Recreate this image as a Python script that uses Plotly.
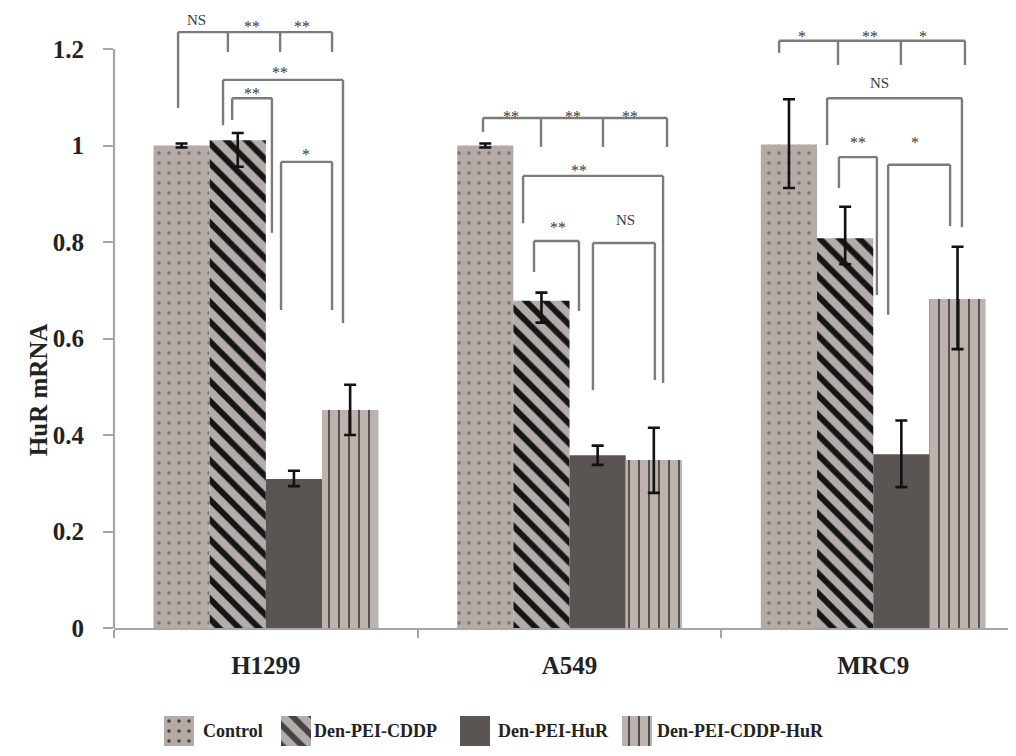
import plotly.graph_objects as go

# ---------------- data ----------------
categories = ["H1299", "A549", "MRC9"]
series_names = ["Control", "Den-PEI-CDDP", "Den-PEI-HuR", "Den-PEI-CDDP-HuR"]
control = [1.000, 1.000, 1.002]
den_pei_cddp = [1.011, 0.678, 0.808]
den_pei_hur = [0.309, 0.358, 0.360]
den_pei_cddp_hur = [0.452, 0.348, 0.682]
err_plus = {
    "Control": [0.004, 0.004, 0.094],
    "Den-PEI-CDDP": [0.015, 0.017, 0.065],
    "Den-PEI-HuR": [0.017, 0.020, 0.070],
    "Den-PEI-CDDP-HuR": [0.052, 0.067, 0.108],
}
err_minus = {
    "Control": [0.004, 0.004, 0.090],
    "Den-PEI-CDDP": [0.055, 0.045, 0.054],
    "Den-PEI-HuR": [0.015, 0.020, 0.068],
    "Den-PEI-CDDP-HuR": [0.052, 0.068, 0.104],
}
y_tick_vals = [0, 0.2, 0.4, 0.6, 0.8, 1.0, 1.2]
y_tick_text = ["0", "0.2", "0.4", "0.6", "0.8", "1", "1.2"]

# significance brackets: (x positions, level, leg bottoms)
brackets = [
    ([-0.289, -0.125, 0.047, 0.218], 1.235, [1.078, 1.194, 1.194, 1.194]),
    ([-0.141, 0.254], 1.136, [1.042, 0.632]),
    ([-0.111, 0.020], 1.098, [1.053, 0.819]),
    ([0.050, 0.218], 0.966, [0.659, 0.659]),
    ([0.715, 0.906, 1.110, 1.321], 1.057, [1.028, 0.997, 0.997, 0.997]),
    ([0.847, 1.308], 0.937, [0.839, 0.508]),
    ([0.883, 1.031], 0.802, [0.738, 0.657]),
    ([1.077, 1.281], 0.798, [0.493, 0.514]),
    ([1.690, 1.884, 2.091, 2.302], 1.217, [1.192, 1.167, 1.167, 1.167]),
    ([1.848, 2.292], 1.098, [1.001, 0.831]),
    ([1.887, 2.012], 0.976, [0.912, 0.690]),
    ([2.049, 2.253], 0.960, [0.649, 0.833]),
]
sig_labels = [
    (-0.227, 1.260, "NS"), (-0.046, 1.246, "**"), (0.119, 1.246, "**"),
    (0.047, 1.152, "**"), (-0.046, 1.107, "**"), (0.132, 0.982, "*"),
    (0.807, 1.061, "**"), (1.011, 1.061, "**"), (1.199, 1.061, "**"),
    (1.031, 0.949, "**"), (0.962, 0.831, "**"), (1.183, 0.846, "NS"),
    (1.765, 1.225, "*"), (1.989, 1.225, "**"), (2.164, 1.225, "*"),
    (2.022, 1.130, "NS"), (1.950, 1.007, "**"), (2.137, 1.007, "*"),
]

# ---------------- styles ----------------
FONT = "Liberation Serif"
styles = {
    "Control": dict(bg="#b4aaa6", fg="#7d7370", shape=".", size=10, solidity=0.1),
    "Den-PEI-CDDP": dict(bg="#b3acaa", fg="#151515", shape="\\", size=14, solidity=0.42),
    "Den-PEI-HuR": dict(bg="#5a5553", fg="#5a5553", shape="", size=8, solidity=0.2),
    "Den-PEI-CDDP-HuR": dict(bg="#bcb2ae", fg="#4e4744", shape="|", size=10, solidity=0.18),
}
values = dict(zip(series_names, [control, den_pei_cddp, den_pei_hur, den_pei_cddp_hur]))

# page body has an 8px margin -> figure coordinates = screen coordinates - 8
PAGE_OFF = 8
W, H = 1000, 740
L = 114 - PAGE_OFF            # left edge of plot area (screen x = 114)
zero_px = 628 - PAGE_OFF      # y=0 line (screen y = 628)
px_per_unit = 482.5
px_per_cat = 303.7
y_dom0 = (H - zero_px) / H
y_max = zero_px / px_per_unit
x_max = -0.5 + (W - L) / px_per_cat


def pattern_of(names):
    return dict(shape=[styles[n]["shape"] for n in names],
                fgcolor=[styles[n]["fg"] for n in names],
                bgcolor=[styles[n]["bg"] for n in names],
                size=[styles[n]["size"] for n in names],
                solidity=[styles[n]["solidity"] for n in names],
                fgopacity=1, fillmode="overlay")


fig = go.Figure()
for name in series_names:
    s = styles[name]
    fig.add_trace(go.Bar(
        x=categories, y=values[name], name=name, showlegend=False,
        marker=dict(color=s["bg"], line=dict(width=0),
                    pattern=dict(shape=s["shape"], fgcolor=s["fg"], bgcolor=s["bg"],
                                 size=s["size"], solidity=s["solidity"],
                                 fgopacity=1, fillmode="overlay")),
        error_y=dict(type="data", symmetric=False, array=err_plus[name],
                     arrayminus=err_minus[name], color="#111111", thickness=2.6, width=6),
    ))

# brackets
bx, by = [], []
for xs, level, bottoms in brackets:
    bx += [xs[0], xs[-1], None]
    by += [level, level, None]
    for x, b in zip(xs, bottoms):
        bx += [x, x, None]
        by += [level, b, None]
fig.add_trace(go.Scatter(x=bx, y=by, mode="lines", showlegend=False, hoverinfo="skip",
                         line=dict(color="#7b7b7b", width=2.4), cliponaxis=False,
                         xaxis="x3", yaxis="y"))

annotations = []
for x, y, t in sig_labels:
    annotations.append(dict(x=x, y=y, xref="x3", yref="y", text=t, showarrow=False,
                            xanchor="center", yanchor="middle",
                            font=dict(family=FONT, size=15 if t == "NS" else 16,
                                      color="#3a3a3a")))

# y axis title
annotations.append(dict(x=(38 - 114) / (W - L), y=0.493, xref="paper", yref="y",
                        text="<b>HuR mRNA</b>", textangle=-90, showarrow=False,
                        xanchor="center", yanchor="middle",
                        font=dict(family=FONT, size=25, color="#222222")))

# custom legend (swatches in an auxiliary axis measured in screen pixels)
leg_centers = [179, 296, 475, 637]
leg_text_x = [201, 312, 496, 655]
fig.add_trace(go.Bar(
    x=leg_centers, y=[1, 1, 1, 1], width=[30, 30, 30, 30], showlegend=False,
    hoverinfo="skip", xaxis="x2", yaxis="y2",
    marker=dict(color=[styles[n]["bg"] for n in series_names], line=dict(width=0),
                pattern=pattern_of(series_names)),
))
for tx, n in zip(leg_text_x, series_names):
    annotations.append(dict(x=tx, y=0.5, xref="x2", yref="y2", text=f"<b>{n}</b>",
                            showarrow=False, xanchor="left", yanchor="middle",
                            font=dict(family=FONT, size=18, color="#222222")))

shapes = [dict(type="line", xref="paper", yref="y", x0=0, x1=0, y0=0, y1=1.2,
               line=dict(color="#a6a6a6", width=2.2))]

leg_top, leg_bot = 716 - PAGE_OFF, 746 - PAGE_OFF

fig.update_layout(
    width=W, height=H,
    margin=dict(l=L, r=0, t=0, b=0, autoexpand=False),
    paper_bgcolor="white", plot_bgcolor="white",
    barmode="group", bargap=0.26, bargroupgap=0,
    showlegend=False,
    annotations=annotations, shapes=shapes,
    xaxis=dict(domain=[0, 1], range=[-0.5, x_max], anchor="y", automargin=False,
               showline=True, linecolor="#a6a6a6", linewidth=2.2,
               ticks="outside", tickson="boundaries", ticklen=8, tickcolor="#a6a6a6",
               tickwidth=1.5, showgrid=False, zeroline=False,
               tickfont=dict(family=FONT, size=25, color="#222222"),
               ticklabelstandoff=14,
               tickvals=categories, ticktext=[f"<b>{c}</b>" for c in categories]),
    xaxis3=dict(domain=[0, 1], range=[-0.5, x_max], anchor="y", overlaying="x",
                visible=False, automargin=False),
    yaxis=dict(domain=[y_dom0, 1], range=[0, y_max], anchor="x", automargin=False,
               showline=False, showgrid=False, zeroline=False,
               ticks="outside", ticklen=10, tickcolor="#a6a6a6", tickwidth=1.5,
               tickvals=y_tick_vals, ticktext=[f"<b>{t}</b>" for t in y_tick_text],
               tickfont=dict(family=FONT, size=25, color="#222222"),
               ticklabelstandoff=14),
    xaxis2=dict(domain=[0, 1], range=[114, W + PAGE_OFF], anchor="y2", visible=False,
                automargin=False),
    yaxis2=dict(domain=[(H - leg_bot) / H, (H - leg_top) / H], range=[0, 1], anchor="x2",
                visible=False, automargin=False),
)

fig.write_html("out.html")
